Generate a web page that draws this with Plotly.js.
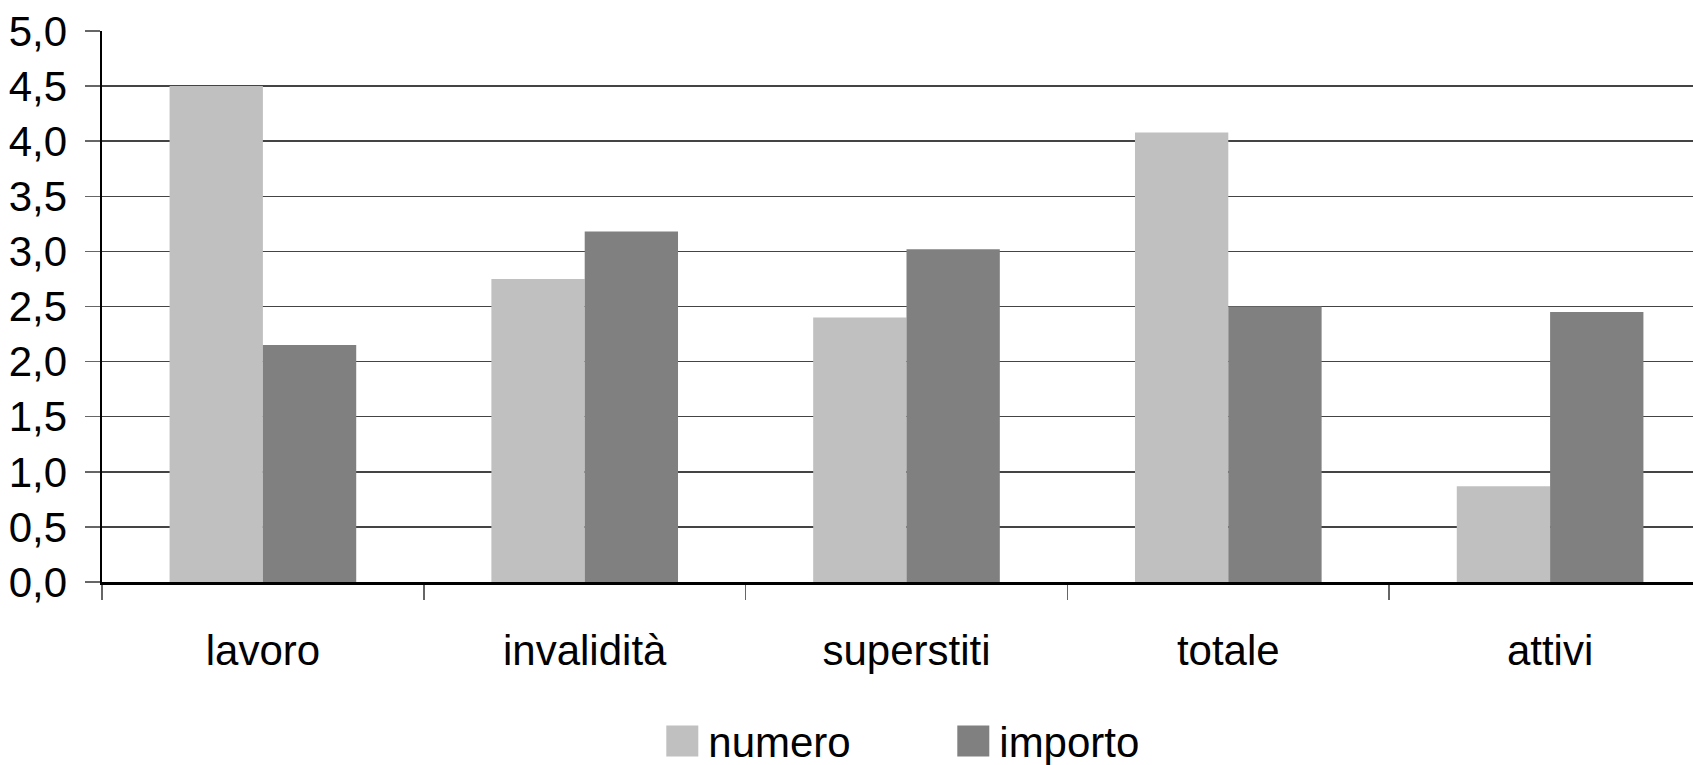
<!DOCTYPE html>
<html>
<head>
<meta charset="utf-8">
<script src="https://cdn.plot.ly/plotly-3.0.1.min.js"></script>
<style>
html,body{margin:0;padding:0;overflow:hidden;background:#fff;}
#chart{width:1730px;height:765px;}
</style>
</head>
<body>
<div id="chart"></div>
<script>
const categories = ["lavoro", "invalidità", "superstiti", "totale", "attivi"];
const numero = [4.50, 2.75, 2.40, 4.08, 0.87];
const importo = [2.15, 3.18, 3.02, 2.50, 2.45];
const seriesNames = ["numero", "importo"];
const yTicks = [0, 0.5, 1, 1.5, 2, 2.5, 3, 3.5, 4, 4.5, 5];

const FONT = "'Liberation Sans Narrow', 'Arial Narrow', 'Liberation Sans', Arial, sans-serif";

const traces = [
  {type: "bar", name: seriesNames[0], x: categories, y: numero,
   marker: {color: "#C0C0C0"}},
  {type: "bar", name: seriesNames[1], x: categories, y: importo,
   marker: {color: "#808080"}}
];

const layout = {
  width: 1730, height: 765,
  margin: {l: 102, r: 19, t: 31, b: 183},
  paper_bgcolor: "#fff", plot_bgcolor: "#fff",
  separators: ",.",
  font: {family: FONT, size: 42, color: "#000"},
  barmode: "group", bargap: 0.42, bargroupgap: 0,
  showlegend: true,
  legend: {orientation: "h", xref: "container", yref: "container",
           x: 0.3863, xanchor: "left", y: 0.031, yanchor: "middle",
           font: {family: FONT, size: 42, color: "#000"}, entrywidth: 246, traceorder: "normal"},
  xaxis: {type: "category", tickson: "boundaries", ticks: "outside", ticklen: 15, tickwidth: 1.5,
          tickcolor: "#666", showline: true, linecolor: "#000", linewidth: 2.5,
          showgrid: false, ticklabelstandoff: 30, fixedrange: true},
  yaxis: {range: [0, 5], tickvals: yTicks, tickformat: ".1f", ticks: "outside", ticklen: 15,
          tickwidth: 1.5, tickcolor: "#666", showline: true, linecolor: "#000", linewidth: 2.5,
          showgrid: true, gridcolor: "#444", gridwidth: 1.5, zeroline: false,
          ticklabelstandoff: 9, fixedrange: true}
};

Plotly.newPlot("chart", traces, layout, {displayModeBar: false, staticPlot: true}).then(function (gd) {
  // let the legend draw unclipped, then enlarge its swatches to ~32px squares
  gd.querySelectorAll(".legend [clip-path]").forEach(function (el) {
    el.removeAttribute("clip-path");
  });
  gd.querySelectorAll(".legend .legendpoints path").forEach(function (p) {
    const bb = p.getBBox();
    if (bb.width > 0 && bb.height > 0) {
      const cx = bb.x + bb.width / 2, cy = bb.y + bb.height / 2;
      const sx = 32 / bb.width, sy = 31 / bb.height;
      p.setAttribute("transform",
        "translate(" + (cx + 14) + "," + cy + ") scale(" + sx + "," + sy + ") translate(" + (-cx) + "," + (-cy) + ")");
    }
    p.style.strokeWidth = "0";
  });
});
</script>
</body>
</html>
